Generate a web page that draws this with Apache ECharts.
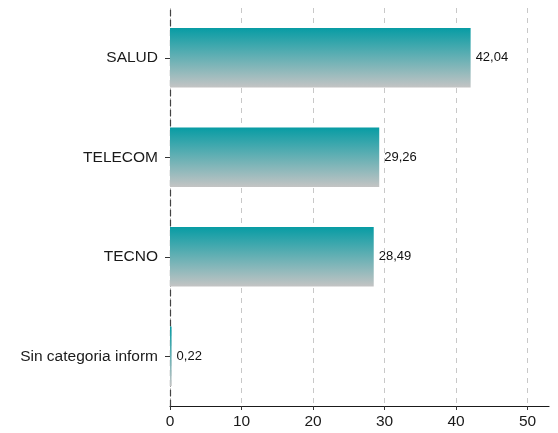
<!DOCTYPE html>
<html><head><meta charset="utf-8">
<script src="https://cdn.jsdelivr.net/npm/echarts@6/dist/echarts.min.js"></script>
<style>html,body{margin:0;padding:0;background:#fff}#c{width:558px;height:433px}</style>
</head><body><div id="c"></div>
<script>
var categories = ['Sin categoria inform', 'TECNO', 'TELECOM', 'SALUD'];
var values = [0.22, 28.49, 29.26, 42.04];
var xTicks = [0, 10, 20, 30, 40, 50];

var chart = echarts.init(document.getElementById('c'), null, {renderer: 'canvas'});
var grad = new echarts.graphic.LinearGradient(0, 0, 0, 1, [
  {offset: 0, color: '#079ca4'},
  {offset: 1, color: '#c4c4c4'}
]);
chart.setOption({
  animation: false,
  textStyle: {fontFamily: 'Liberation Sans, Arial, sans-serif'},
  grid: {left: 170, right: 9, top: 8, bottom: 27, containLabel: false},
  xAxis: {
    type: 'value', min: 0, max: 53, interval: 10,
    axisLine: {show: true, lineStyle: {color: '#1a1a1a', width: 1.2}},
    axisTick: {show: true, length: 4, lineStyle: {color: '#333'}, customValues: xTicks},
    axisLabel: {color: '#1a1a1a', fontSize: 15.5, margin: 8, customValues: xTicks},
    splitLine: {show: true, lineStyle: {color: '#c8c8c8', type: [5, 5], width: 1}}
  },
  yAxis: {
    type: 'category', data: categories,
    axisLine: {show: true, lineStyle: {color: '#444', type: [6, 4], width: 1.2}},
    axisTick: {show: true, length: 5, alignWithLabel: true, lineStyle: {color: '#333'}},
    axisLabel: {color: '#1a1a1a', fontSize: 15.5, margin: 12}
  },
  series: [{
    type: 'bar', data: values, barCategoryGap: '40%',
    itemStyle: {color: grad},
    label: {show: true, position: 'right', distance: 5, color: '#111', fontSize: 13,
      formatter: function (p) { return p.value.toFixed(2).replace('.', ','); }}
  }]
});
</script></body></html>
